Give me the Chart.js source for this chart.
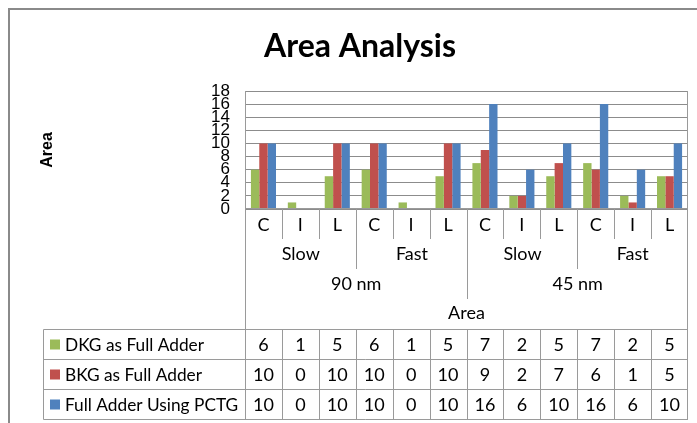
<!DOCTYPE html>
<html>
<head>
<meta charset="utf-8">
<script src="https://cdn.jsdelivr.net/npm/chart.js@4.4.0/dist/chart.umd.min.js"></script>
<style>
  html, body { margin: 0; padding: 0; background: #fff; }
</style>
</head>
<body>
<canvas id="areaChart" width="697" height="423"></canvas>
<script>
// chart data
const categories = ["C", "I", "L", "C", "I", "L", "C", "I", "L", "C", "I", "L"];
const speedGroups = ["Slow", "Fast", "Slow", "Fast"];
const nodeGroups = ["90 nm", "45 nm"];
const axisTitle = "Area";
const seriesNames = ["DKG as Full Adder", "BKG as Full Adder", "Full Adder Using PCTG"];
const dkgValues = [6, 1, 5, 6, 1, 5, 7, 2, 5, 7, 2, 5];
const bkgValues = [10, 0, 10, 10, 0, 10, 9, 2, 7, 6, 1, 5];
const pctgValues = [10, 0, 10, 10, 0, 10, 16, 6, 10, 16, 6, 10];
const seriesColors = ["#9bbb59", "#c0504d", "#4f81bd"];

const lineGray = "#9a9a9a";
const labelFont = "18px Lato";
const tableFont = "17.3px Lato";

// draws frame, titles, the multi level category axis and the data table
const excelLayout = {
  id: "excelLayout",
  afterDraw(chart) {
    const ctx = chart.ctx;
    const area = chart.chartArea;
    const xs = chart.scales.x;
    const n = categories.length;
    const allValues = [dkgValues, bkgValues, pctgValues];

    // boundary between category i-1 and i
    const edge = (i) => {
      if (i <= 0) return area.left;
      if (i >= n) return area.right;
      return Math.round((xs.getPixelForValue(i - 1) + xs.getPixelForValue(i)) / 2) + 0.5;
    };
    const mid = (a, b) => (edge(a) + edge(b)) / 2;

    ctx.save();

    // outer frame
    ctx.strokeStyle = "#8a8a8a";
    ctx.lineWidth = 2;
    ctx.strokeRect(9, 9, 720, 450);

    // title
    ctx.fillStyle = "#000";
    ctx.textAlign = "center";
    ctx.textBaseline = "alphabetic";
    ctx.font = "bold 32px Lato";
    ctx.fillText("Area Analysis", 360, 57);

    // y axis title
    ctx.save();
    ctx.translate(52, 150);
    ctx.rotate(-Math.PI / 2);
    ctx.font = "bold 16px 'Liberation Sans'";
    ctx.textBaseline = "alphabetic";
    ctx.fillText(axisTitle, 0, 0);
    ctx.restore();

    ctx.strokeStyle = lineGray;
    ctx.lineWidth = 1;

    // plot area border + left/right lines running down to the table bottom
    const rowTop = 329.5;
    const rowYs = [329.5, 359.5, 389.5, 419.5];
    ctx.beginPath();
    ctx.moveTo(area.left + 0.5, area.top);
    ctx.lineTo(area.left + 0.5, rowYs[3]);
    ctx.moveTo(area.right - 0.5, area.top);
    ctx.lineTo(area.right - 0.5, rowYs[3]);
    ctx.moveTo(area.left, area.bottom - 0.5);
    ctx.lineTo(area.right, area.bottom - 0.5);
    ctx.stroke();

    // category separators, longer at group boundaries
    const bottom = area.bottom;
    ctx.beginPath();
    for (let i = 1; i < n; i++) {
      let len = 30;
      if (i % 3 === 0) len = 60;
      if (i % 6 === 0) len = 90;
      const x = edge(i);
      ctx.moveTo(x, bottom);
      ctx.lineTo(x, bottom + len);
    }
    ctx.stroke();

    // category labels
    ctx.textAlign = "center";
    ctx.textBaseline = "middle";
    ctx.font = labelFont;
    ctx.fillStyle = "#000";
    categories.forEach((c, i) => ctx.fillText(c, xs.getPixelForValue(i), bottom + 16));
    speedGroups.forEach((s, g) => ctx.fillText(s, mid(g * 3, g * 3 + 3), bottom + 45));
    nodeGroups.forEach((s, g) => ctx.fillText(s, mid(g * 6, g * 6 + 6), bottom + 75));
    ctx.fillText(axisTitle, mid(0, n), bottom + 104);

    // data table
    const tableLeft = 43.5;
    ctx.beginPath();
    rowYs.forEach((y, r) => {
      ctx.moveTo(r === 0 ? area.left : tableLeft, y);
      ctx.lineTo(area.right, y);
    });
    for (let i = 1; i < n; i++) {
      ctx.moveTo(edge(i), rowTop);
      ctx.lineTo(edge(i), rowYs[3]);
    }
    ctx.moveTo(tableLeft, rowYs[0]);
    ctx.lineTo(tableLeft, rowYs[3]);
    ctx.moveTo(tableLeft, rowYs[0]);
    ctx.lineTo(area.left, rowYs[0]);
    ctx.stroke();

    ctx.font = tableFont;
    seriesNames.forEach((name, r) => {
      const cy = (rowYs[r] + rowYs[r + 1]) / 2;
      ctx.fillStyle = seriesColors[r];
      ctx.fillRect(50, cy - 5, 10, 10);
      ctx.fillStyle = "#000";
      ctx.textAlign = "left";
      ctx.fillText(name, 65, cy + 1);
      ctx.textAlign = "center";
      ctx.font = labelFont;
      allValues[r].forEach((v, i) => ctx.fillText(String(v), xs.getPixelForValue(i), cy + 1));
      ctx.font = tableFont;
    });

    ctx.restore();
  }
};

const ctx = document.getElementById("areaChart").getContext("2d");

new Chart(ctx, {
  type: "bar",
  data: {
    labels: categories,
    datasets: seriesNames.map((name, k) => ({
      label: name,
      data: [dkgValues, bkgValues, pctgValues][k],
      backgroundColor: seriesColors[k],
      borderWidth: 0,
      categoryPercentage: 0.68,
      barPercentage: 1.0,
    })),
  },
  options: {
    responsive: false,
    animation: false,
    layout: {
      padding: { left: 205, right: 9, top: 91, bottom: 214 },
    },
    plugins: {
      legend: { display: false },
      title: { display: false },
      tooltip: { enabled: false },
    },
    scales: {
      x: {
        display: false,
      },
      y: {
        min: 0,
        max: 18,
        afterFit(scale) {
          scale.width = 40;
        },
        border: { display: false },
        grid: { color: "#8c8c8c", drawTicks: false },
        ticks: {
          stepSize: 2,
          autoSkip: false,
          padding: 15,
          color: "#000",
          font: { family: "'Liberation Sans'", size: 17 },
        },
      },
    },
  },
  plugins: [excelLayout],
});
</script>
</body>
</html>
